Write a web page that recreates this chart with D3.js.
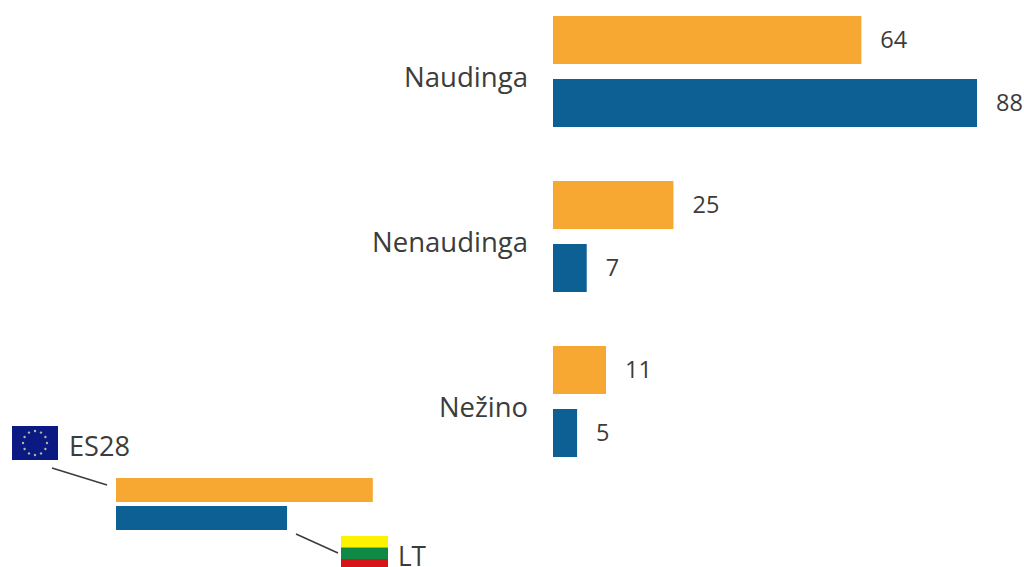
<!DOCTYPE html>
<html><head><meta charset="utf-8">
<script src="https://cdn.jsdelivr.net/npm/d3@7"></script>
<style>html,body{margin:0;padding:0;background:#fff}svg{display:block}text{font-family:"Open Sans",sans-serif;fill:#3c3c3b}</style>
</head><body><svg id="c" width="1024" height="567"></svg>
<script>
const categories = ["Naudinga","Nenaudinga","Nežino"];
const seriesNames = ["ES28","LT"];
const es28Values = [64,25,11];
const ltValues = [88,7,5];
const keyValues = [53.3,35.5];
const colors = ["#f6a833","#0c6093"];

const svg=d3.select("#c");
const x=d3.scaleLinear().domain([0,88]).range([553,977]);
const y=d3.scaleBand().domain(categories).range([6,501]);
const inner=d3.scaleBand().domain(seriesNames).range([10,121]).paddingInner(15/63);
const vals={ES28:es28Values,LT:ltValues};
const labelWidth={"Naudinga":124,"Nenaudinga":156,"Nežino":89};

categories.forEach((c,i)=>{
  const g=svg.append("g");
  const top=y(c);
  seriesNames.forEach((s,j)=>{
    const v=vals[s][i];
    g.append("rect").attr("x",x(0)).attr("y",top+inner(s)).attr("width",x(v)-x(0)).attr("height",inner.bandwidth()).attr("fill",colors[j]);
    g.append("text").attr("x",x(v)+19).attr("y",top+inner(s)+inner.bandwidth()/2+7.5)
      .attr("font-size",23.5).text(v);
  });
  g.append("text").attr("x",528-labelWidth[c]).attr("y",top+inner("ES28")+inner.bandwidth()+23)
    .attr("font-size",26.5).attr("textLength",labelWidth[c]).attr("lengthAdjust","spacingAndGlyphs").text(c);
});

// key
const kx=d3.scaleLinear().domain([0,88]).range([116,540]);
const ky=d3.scaleBand().domain(seriesNames).range([478,530]).paddingInner(1/7);
seriesNames.forEach((s,j)=>{
  svg.append("rect").attr("x",kx(0)).attr("y",ky(s)).attr("width",kx(keyValues[j])-kx(0)).attr("height",ky.bandwidth()).attr("fill",colors[j]);
});
const line=(a,b,c,d)=>svg.append("line").attr("x1",a).attr("y1",b).attr("x2",c).attr("y2",d).attr("stroke","#3c3c3b").attr("stroke-width",1.5);
line(52,468,107,485);
line(296,534,338,553);

// EU flag
svg.append("rect").attr("x",12).attr("y",426).attr("width",46).attr("height",34).attr("fill","#0b1a82");
d3.range(12).forEach(i=>{
  const a=i/12*2*Math.PI;
  svg.append("circle").attr("cx",35+12*Math.cos(a)).attr("cy",443+12*Math.sin(a)).attr("r",1.2).attr("fill","#b4b6a0");
});
svg.append("text").attr("x",69).attr("y",456).attr("font-size",27).attr("textLength",61).attr("lengthAdjust","spacingAndGlyphs").text("ES28");

// LT flag
[["#fff200",536,11.5],["#0f8a45",547.5,11.5],["#d7141a",559,8]].forEach(d=>{
  svg.append("rect").attr("x",341).attr("y",d[1]).attr("width",47).attr("height",d[2]).attr("fill",d[0]);
});
svg.append("text").attr("x",398).attr("y",565.5).attr("font-size",27).attr("textLength",28).attr("lengthAdjust","spacingAndGlyphs").text("LT");
</script></body></html>
